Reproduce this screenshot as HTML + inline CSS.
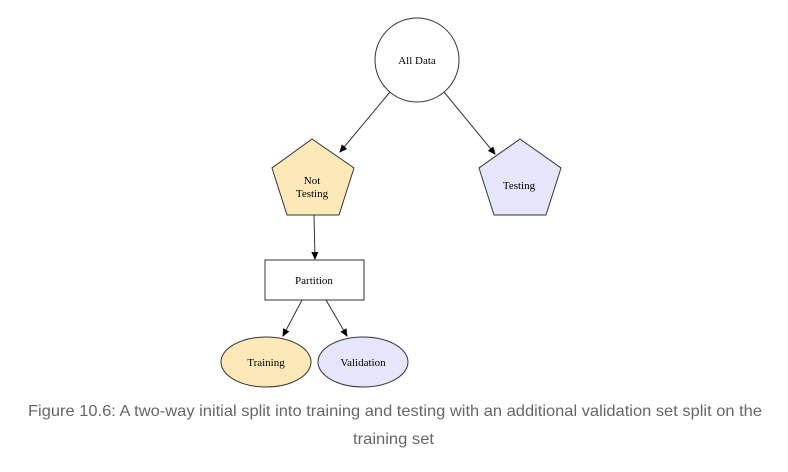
<!DOCTYPE html>
<html><head><meta charset="utf-8"><style>
html,body{margin:0;padding:0;background:#fff;}
svg{display:block;}
</style></head><body>
<svg width="788" height="472" viewBox="0 0 788 472" xmlns="http://www.w3.org/2000/svg">
<defs>
<marker id="a" markerWidth="8" markerHeight="8" refX="7" refY="4" orient="auto" markerUnits="userSpaceOnUse">
<path d="M0,0.5 L8,4 L0,7.5 Z" fill="#000"/>
</marker>
</defs>
<g stroke="#333" stroke-width="1" fill="none">
<line x1="390" y1="92" x2="340" y2="152" marker-end="url(#a)"/>
<line x1="444" y1="92" x2="495" y2="154" marker-end="url(#a)"/>
<line x1="314" y1="215" x2="315" y2="259" marker-end="url(#a)"/>
<line x1="302" y1="300" x2="283" y2="336" marker-end="url(#a)"/>
<line x1="326" y1="300" x2="347" y2="336" marker-end="url(#a)"/>
</g>
<circle cx="417" cy="60" r="42" fill="#fff" stroke="#333"/>
<polygon points="312,139 354,168 339,215 287,215 272,168" fill="#fde9b8" stroke="#333"/>
<polygon points="520,139 561,168 546,215 494,215 479,168" fill="#e5e5fb" stroke="#333"/>
<rect x="265" y="260" width="99" height="40" fill="#fff" stroke="#333"/>
<ellipse cx="266" cy="362" rx="45" ry="25" fill="#fde9b8" stroke="#333"/>
<ellipse cx="363" cy="362" rx="45" ry="25" fill="#e5e5fb" stroke="#333"/>
<g font-family="Liberation Serif, serif" font-size="11" fill="#000" text-anchor="middle">
<text x="417" y="64">All Data</text>
<text x="312" y="184">Not</text>
<text x="312" y="197">Testing</text>
<text x="519" y="189">Testing</text>
<text x="314" y="284">Partition</text>
<text x="266" y="366">Training</text>
<text x="363" y="366">Validation</text>
</g>
<g font-family="Liberation Sans, sans-serif" font-size="16" fill="#666">
<text x="28" y="416" textLength="734" lengthAdjust="spacingAndGlyphs">Figure 10.6: A two-way initial split into training and testing with an additional validation set split on the</text>
<text x="353" y="444" textLength="81" lengthAdjust="spacingAndGlyphs">training set</text>
</g>
</svg>
</body></html>
